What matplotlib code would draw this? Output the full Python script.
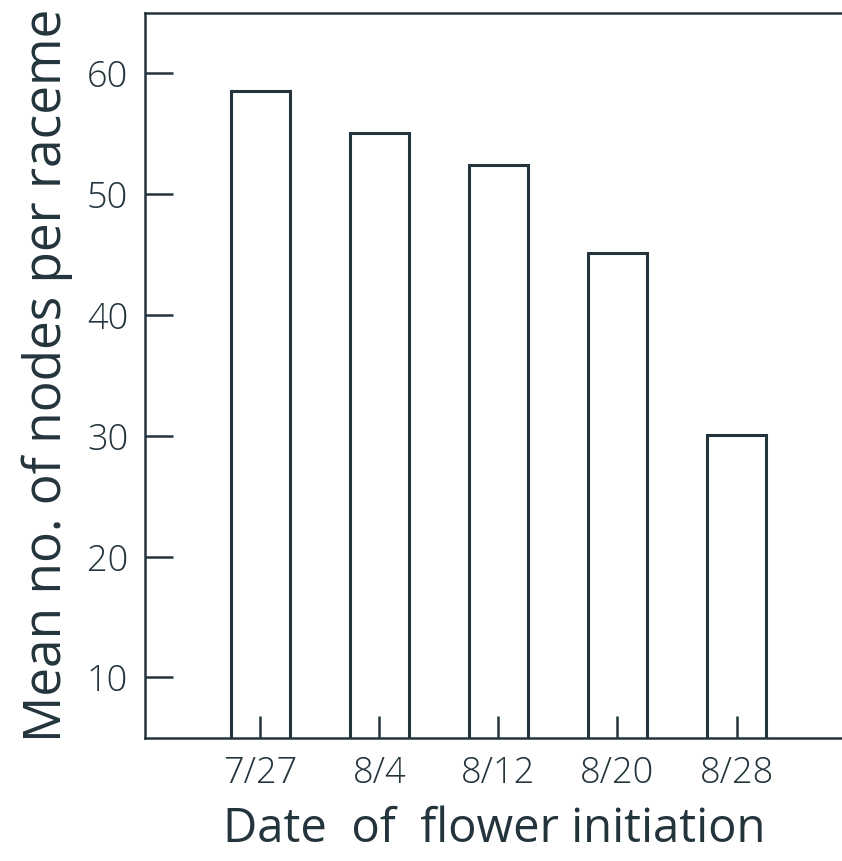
import numpy as np
import matplotlib
matplotlib.use("Agg")
from matplotlib import pyplot as plt

dates = ["7/27", "8/4", "8/12", "8/20", "8/28"]
nodes = [58.5, 55.1, 52.4, 45.1, 30.1]
yticks = [10, 20, 30, 40, 50, 60]

ink = "#23343c"
plt.rcParams['font.family'] = ['Open Sans', 'DejaVu Sans']
plt.rcParams['font.weight'] = 'light'

fig = plt.figure(figsize=(8.42, 8.61), dpi=100)
ax = fig.add_axes([0.172, 0.143, 0.83, 0.842])

x = np.arange(len(dates))
ax.bar(x, nodes, width=0.5, bottom=0, facecolor="white", edgecolor=ink, linewidth=2.2)

ax.set_xlim(-0.97, 4.9)
ax.set_ylim(5, 65)
ax.set_yticks(yticks)
ax.set_xticks(x)
ax.set_xticklabels(dates)

ax.spines["right"].set_visible(False)
for s in ["left", "bottom", "top"]:
    ax.spines[s].set_color(ink)
    ax.spines[s].set_linewidth(1.8)

ax.tick_params(axis="y", direction="in", length=20, width=1.8, color=ink,
               labelsize=26, labelcolor=ink, pad=12)
ax.tick_params(axis="x", direction="in", length=16, width=1.8, color=ink,
               labelsize=26, labelcolor=ink, pad=12)

ax.set_ylabel("Mean no. of nodes per raceme", fontsize=37, color=ink, labelpad=10)
ax.set_xlabel("Date  of  flower initiation", fontsize=34, color=ink, labelpad=10)

fig.savefig("out.png", dpi=100)
